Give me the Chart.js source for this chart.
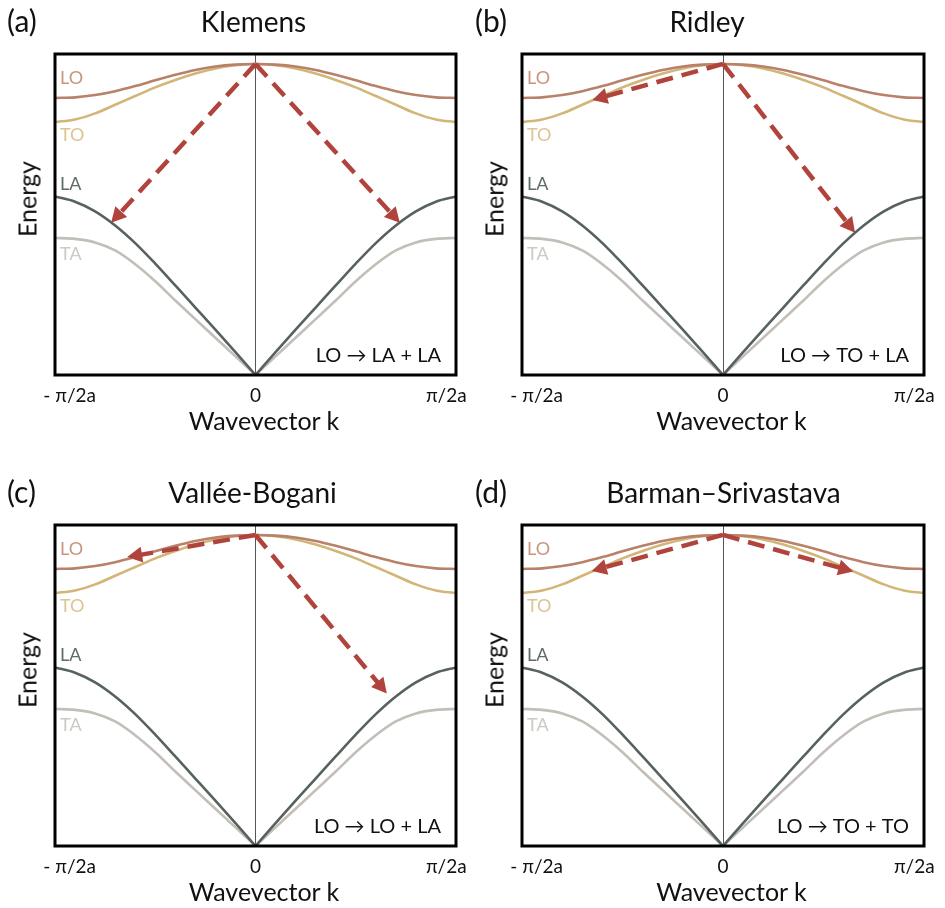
<!DOCTYPE html>
<html>
<head>
<meta charset="utf-8">
<script src="https://cdn.jsdelivr.net/npm/chart.js@4.4.1/dist/chart.umd.min.js"></script>
<style>
  html, body { margin: 0; padding: 0; background: #fff; }
  body { width: 945px; height: 908px; overflow: hidden; position: relative; font-family: Lato, "Open Sans", sans-serif; color: #111; }
  canvas { position: absolute; }
  .txt { position: absolute; white-space: nowrap; line-height: 1; }
</style>
</head>
<body>
<script>
// dispersion branches, right half (k >= 0), in units of pi/2a; mirrored for k < 0
const kHalf = [0, 0.1, 0.2, 0.3, 0.4, 0.5, 0.6, 0.7, 0.8, 0.9, 1.0];
const LO = [0.969, 0.967, 0.961, 0.950, 0.935, 0.918, 0.900, 0.884, 0.872, 0.865, 0.863];
const TO = [0.969, 0.965, 0.955, 0.939, 0.919, 0.896, 0.869, 0.842, 0.815, 0.796, 0.788];
const LA = [0, 0.071, 0.141, 0.210, 0.279, 0.347, 0.411, 0.466, 0.510, 0.540, 0.556];
const TA = [0, 0.058, 0.116, 0.174, 0.232, 0.292, 0.345, 0.388, 0.413, 0.424, 0.427];

const xTickLabels = ['- π/2a', '0', 'π/2a'];
const branchNames = ['LO', 'TO', 'LA', 'TA'];
const branchLabelE = [0.925, 0.748, 0.593, 0.376];

const letters = ['(a)', '(b)', '(c)', '(d)'];
const titles = ['Klemens', 'Ridley', 'Vallée-Bogani', 'Barman–Srivastava'];
const reactions = ['LO → LA + LA', 'LO → TO + LA', 'LO → LO + LA', 'LO → TO + TO'];

// decay arrows: all start at the LO zone-centre phonon
const arrowFrom = [0, 0.969];
const arrowTo = [
  [[-0.72, 0.474], [0.72, 0.474]],
  [[-0.65, 0.857], [0.657, 0.443]],
  [[-0.64, 0.900], [0.655, 0.475]],
  [[-0.653, 0.857], [0.648, 0.855]]
];

const lineColors = ['#b9806a', '#d2b677', '#56625f', '#c2bfb8'];
const textColors = ['#c8957f', '#dcc493', '#5e6b6b', '#cdc9c3'];
const arrowColor = '#b0443c';
const FONT = 'Lato, "Open Sans", sans-serif';

Chart.defaults.font.family = FONT;

function leftHalf(vals) {
  return kHalf.map((k, i) => ({ x: -k, y: vals[i] })).reverse();
}
function rightHalf(vals) {
  return kHalf.map((k, i) => ({ x: k, y: vals[i] }));
}
function fullBranch(vals) {
  return leftHalf(vals).concat(rightHalf(vals).slice(1));
}

function line(data, color) {
  return { data: data, borderColor: color, borderWidth: 2.6, pointRadius: 0, fill: false, cubicInterpolationMode: 'monotone' };
}

function addText(txt, x, y, size, transform) {
  const d = document.createElement('div');
  d.className = 'txt';
  d.textContent = txt;
  d.style.left = x + 'px';
  d.style.top = y + 'px';
  d.style.fontSize = size + 'px';
  if (transform) d.style.transform = transform;
  document.body.appendChild(d);
}

function framePlugin(p) {
  return {
    id: 'frame' + p,
    afterDatasetsDraw(chart) {
      const ctx = chart.ctx;
      const a = chart.chartArea;
      const xs = chart.scales.x, ys = chart.scales.y;
      ctx.save();

      // branch names
      ctx.font = '18px ' + FONT;
      ctx.textAlign = 'left';
      ctx.textBaseline = 'middle';
      branchNames.forEach((n, i) => {
        ctx.fillStyle = textColors[i];
        ctx.fillText(n, xs.getPixelForValue(-0.975), ys.getPixelForValue(branchLabelE[i]));
      });

      // process label
      ctx.font = '20px ' + FONT;
      ctx.fillStyle = '#111';
      ctx.textAlign = 'right';
      ctx.textBaseline = 'alphabetic';
      ctx.fillText(reactions[p], a.right - 15, a.bottom - 13);

      // arrows
      const x0 = xs.getPixelForValue(arrowFrom[0]);
      const y0 = ys.getPixelForValue(arrowFrom[1]);
      ctx.strokeStyle = arrowColor;
      ctx.fillStyle = arrowColor;
      arrowTo[p].forEach(t => {
        const x1 = xs.getPixelForValue(t[0]);
        const y1 = ys.getPixelForValue(t[1]);
        const ang = Math.atan2(y1 - y0, x1 - x0);
        const head = 15, half = 8;
        const bx = x1 - head * Math.cos(ang), by = y1 - head * Math.sin(ang);
        ctx.lineWidth = 4.5;
        ctx.setLineDash([17, 9]);
        ctx.beginPath();
        ctx.moveTo(x0, y0);
        ctx.lineTo(bx + 2 * Math.cos(ang), by + 2 * Math.sin(ang));
        ctx.stroke();
        ctx.setLineDash([]);
        ctx.beginPath();
        ctx.moveTo(x1, y1);
        ctx.lineTo(bx - half * Math.sin(ang), by + half * Math.cos(ang));
        ctx.lineTo(bx + half * Math.sin(ang), by - half * Math.cos(ang));
        ctx.closePath();
        ctx.fill();
      });

      // box
      ctx.lineWidth = 3;
      ctx.strokeStyle = '#000';
      ctx.strokeRect(a.left, a.top, a.right - a.left, a.bottom - a.top);
      ctx.restore();
    }
  };
}

for (let p = 0; p < 4; p++) {
  const col = p % 2, row = Math.floor(p / 2);
  const cv = document.createElement('canvas');
  cv.width = 500;
  cv.height = 420;
  cv.style.left = (col * 467) + 'px';
  cv.style.top = (row * 471) + 'px';
  document.body.appendChild(cv);

  new Chart(cv, {
    type: 'line',
    data: {
      datasets: [
        line(fullBranch(LO), lineColors[0]),
        line(fullBranch(TO), lineColors[1]),
        line(leftHalf(LA), lineColors[2]),
        line(rightHalf(LA), lineColors[2]),
        line(leftHalf(TA), lineColors[3]),
        line(rightHalf(TA), lineColors[3])
      ]
    },
    options: {
      responsive: false,
      animation: false,
      devicePixelRatio: 1,
      layout: { padding: { left: 55, right: col ? 43 : 44, top: 54, bottom: 4.2 } },
      plugins: { legend: { display: false }, tooltip: { enabled: false } },
      scales: {
        x: {
          type: 'linear', min: -1, max: 1,
          border: { display: false },
          grid: {
            drawTicks: false, lineWidth: 1,
            color: c => (c.tick && c.tick.value === 0) ? '#555' : 'rgba(0,0,0,0)'
          },
          ticks: {
            stepSize: 1, padding: 9, color: '#111', maxRotation: 0, autoSkip: false,
            font: { size: 19 },
            callback: v => v < 0 ? '      ' + xTickLabels[0] : (v > 0 ? xTickLabels[2] + '    ' : xTickLabels[1])
          }
        },
        y: { type: 'linear', min: 0, max: 1, display: false }
      }
    },
    plugins: [framePlugin(p)]
  });

  const dx = col * 467, dy = row * 471;
  addText(letters[p], 7 + (col ? 1 : 0) + dx, 5.4 + dy, 30);
  addText(titles[p], [253.5, 707, 252.5, 723.5][p], 7.2 + dy, 28, 'translateX(-50%)');
  addText('Energy', (col ? 494 : 26.5), [199, 199, 670, 670][p], 25, 'translate(-50%,-50%) rotate(-90deg)');
  addText('Wavevector k', (col ? 731.5 : 264), 407.8 + dy, 25, 'translateX(-50%)');
}
</script>
</body>
</html>
